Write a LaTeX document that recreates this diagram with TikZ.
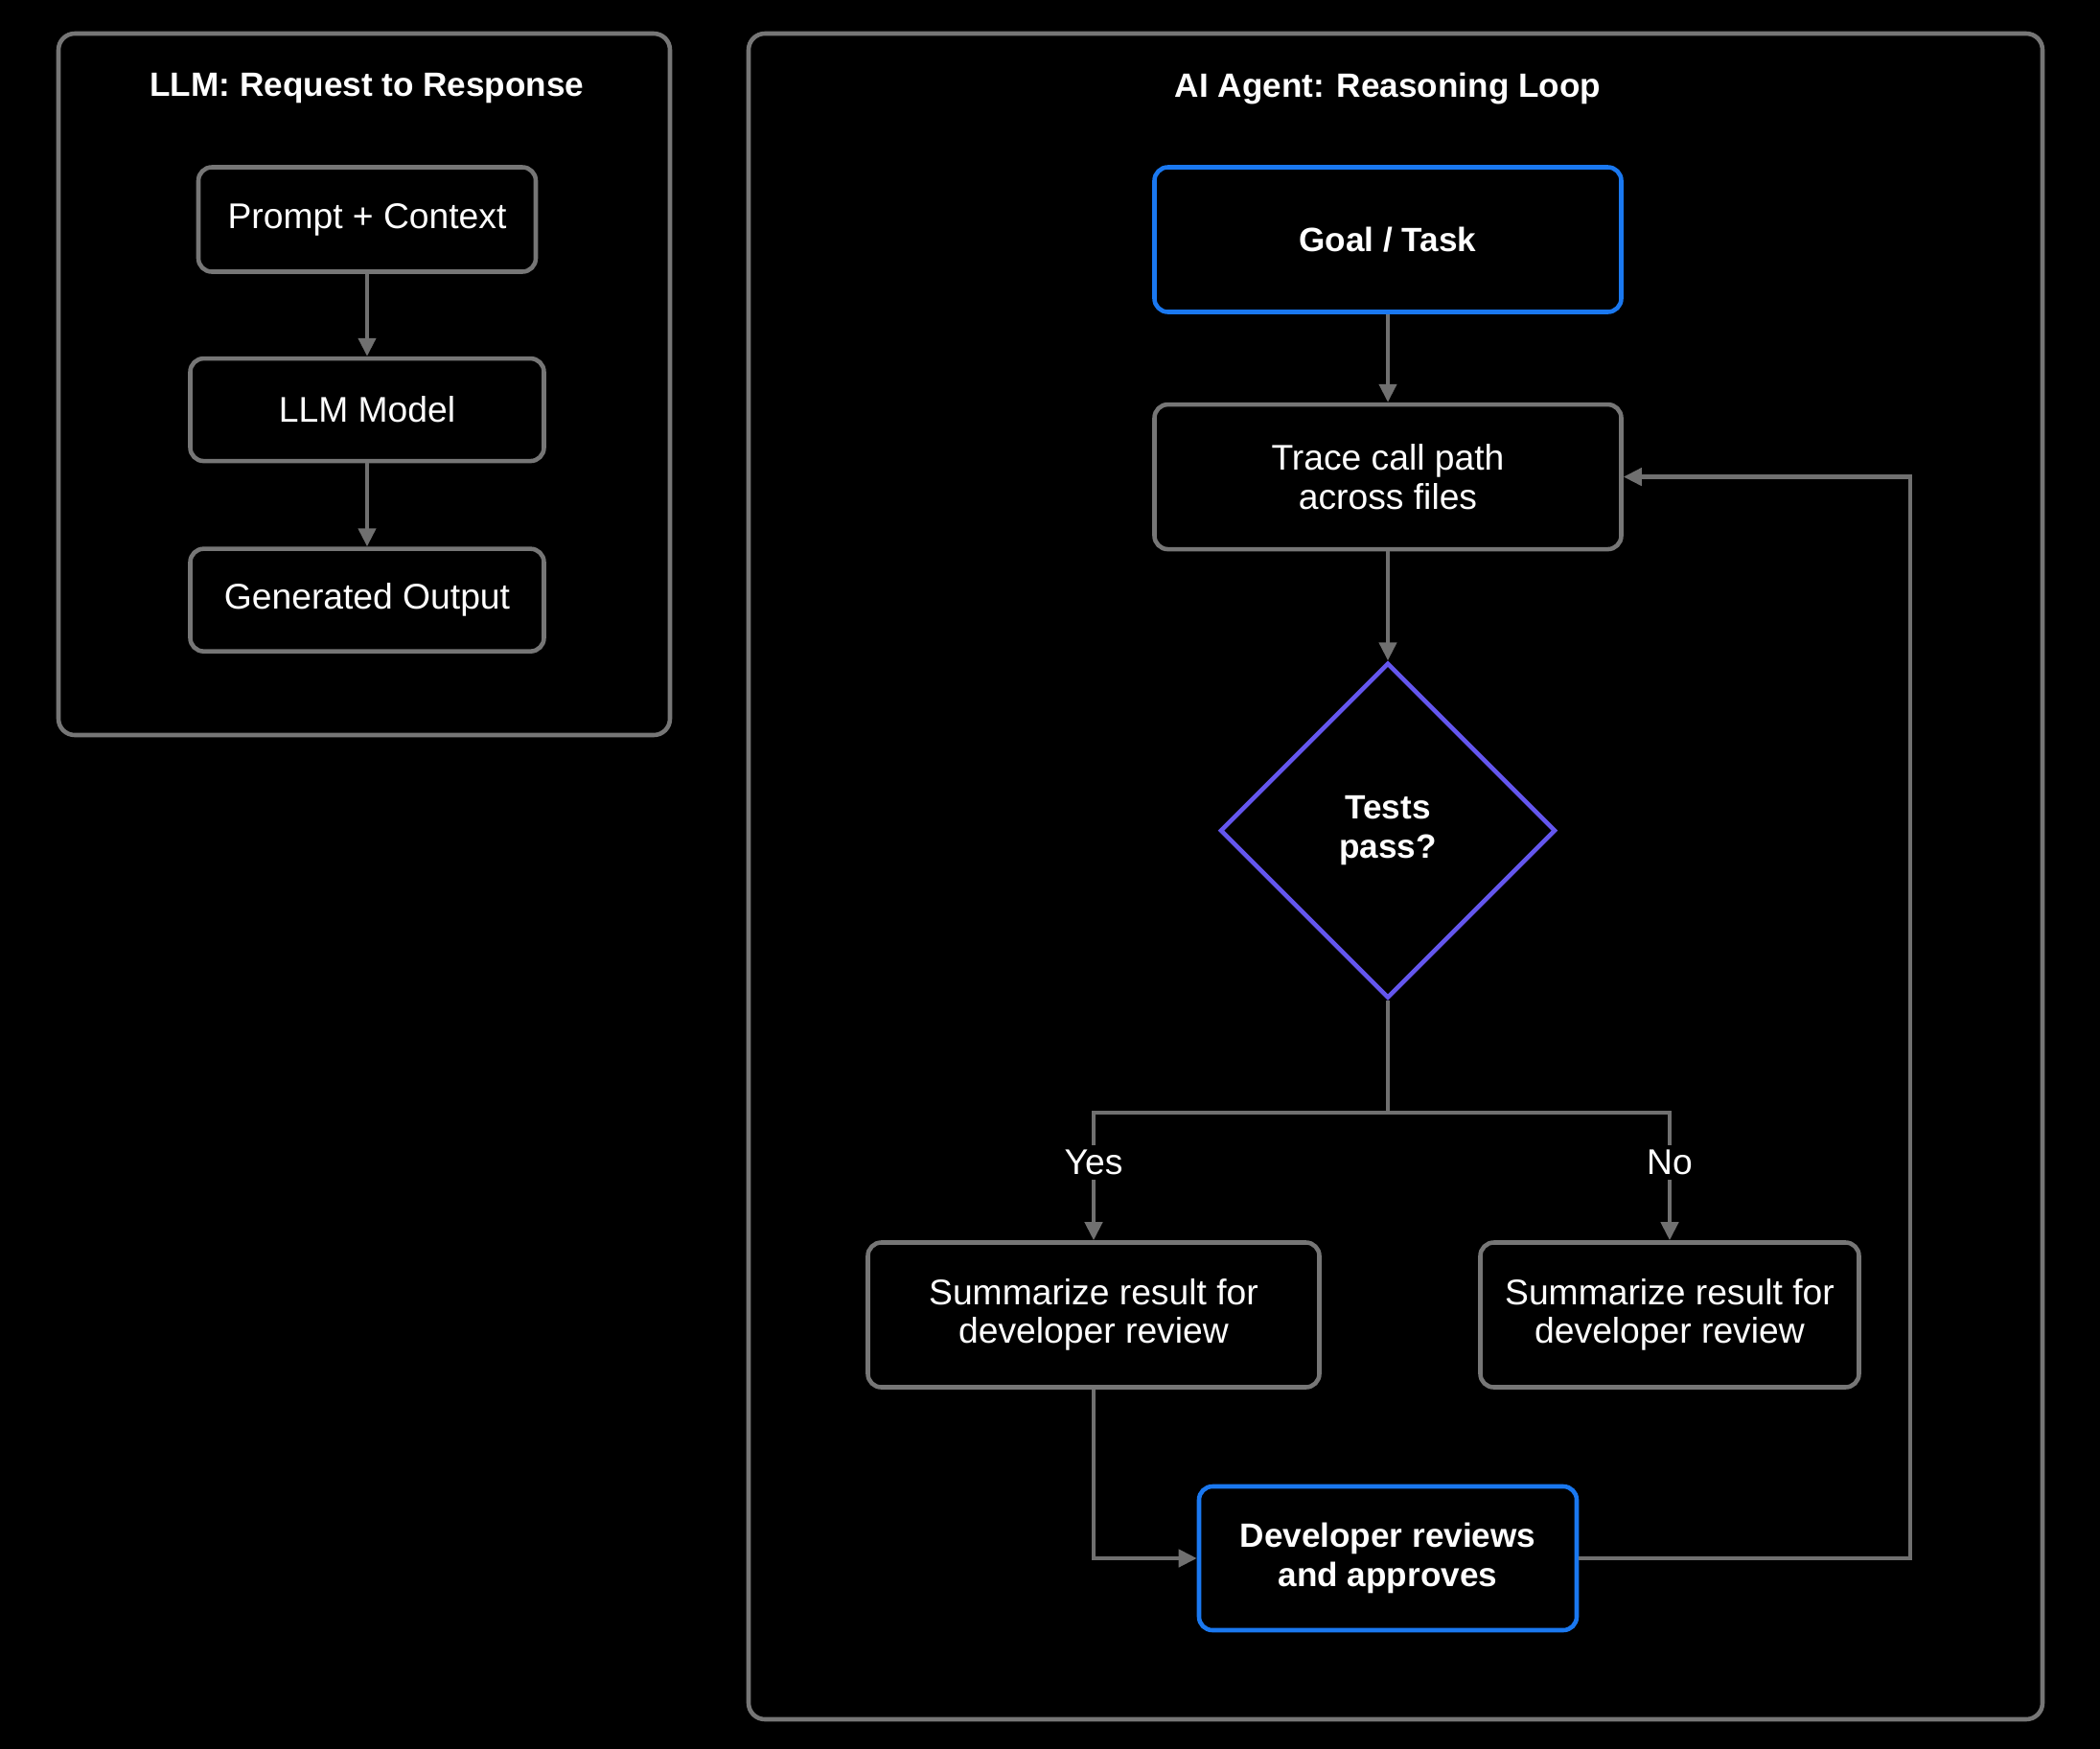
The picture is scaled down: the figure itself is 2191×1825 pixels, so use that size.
\documentclass[tikz,border=0pt]{standalone}
\usepackage{fontspec}
\setmainfont{Liberation Sans}
\usetikzlibrary{positioning, calc, shapes.geometric, arrows.meta}

\definecolor{frameGray}{RGB}{118,118,118}
\definecolor{lineGray}{RGB}{112,112,112}
\definecolor{keyBlue}{RGB}{26,120,240}
\definecolor{decidePurple}{RGB}{100,86,238}

\begin{document}
\begin{tikzpicture}[
  x=0.1mm, y=-0.1mm,
  >={Triangle[length=1.9mm, width=1.8mm]},
  frameNode/.style    ={rectangle, rounded corners=1.7mm, draw=frameGray, line width=1.3pt},
  stepNode/.style     ={rectangle, rounded corners=1.4mm, draw=frameGray, line width=1.3pt, text=white, text centered, align=center, font=\fontsize{10.6}{11.5}\selectfont},
  keyNode/.style      ={stepNode, draw=keyBlue, font=\fontsize{10}{11.5}\selectfont\bfseries},
  decisionNode/.style ={diamond, aspect=1, draw=decidePurple, line width=1.3pt, inner sep=0pt, text=white, align=center, font=\fontsize{10}{11.5}\selectfont\bfseries},
  titleNode/.style    ={text=white, font=\fontsize{10}{11.5}\selectfont\bfseries},
  edgeLabel/.style    ={fill=black, text=white, inner sep=1.5pt, font=\fontsize{10.6}{11.5}\selectfont},
  arrow/.style        ={->, draw=lineGray, line width=1.2pt}
]

% background, sets the page size
\fill[black] (0,0) rectangle (2191,1825);

% ================== LEFT PANEL: LLM ==================
\node[frameNode, minimum width=63.8mm, minimum height=73.2mm] (FRAME_LLM) at (380,401) {};
\node[titleNode] (TITLE_LLM) at (383,92) {LLM: Request to Response};

\node[stepNode, minimum width=35.2mm, minimum height=10.9mm] (PROMPT) at (383,229) {Prompt + Context};
\node[stepNode, minimum width=36.9mm, minimum height=10.7mm, below=8.6mm of PROMPT] (MODEL) {LLM Model};
\node[stepNode, minimum width=36.9mm, minimum height=10.7mm, below=8.7mm of MODEL] (OUTPUT) {Generated Output};

\draw[arrow] (PROMPT) -- (MODEL);
\draw[arrow] (MODEL) -- (OUTPUT);

% ================== RIGHT PANEL: AGENT LOOP ==================
\node[frameNode, minimum width=135mm, minimum height=175.9mm] (FRAME_AGENT) at (1456,914.5) {};
\node[titleNode] (TITLE_AGENT) at (1448,92) {AI Agent: Reasoning Loop};

\node[keyNode, minimum width=48.7mm, minimum height=15.1mm] (GOAL) at (1448,250) {Goal / Task};
\node[stepNode, minimum width=48.7mm, minimum height=15.1mm, below=9.2mm of GOAL] (TRACE) {Trace call path\\across files};
\node[decisionNode, minimum size=35mm, below=11.4mm of TRACE] (DECIDE) {Tests\\pass?};

\node[stepNode, minimum width=47.1mm, minimum height=15.1mm] (SUM_YES) at (1141,1372) {Summarize result for\\developer review};
\node[stepNode, minimum width=39.5mm, minimum height=15.1mm] (SUM_NO) at (1742,1372) {Summarize result for\\developer review};
\node[keyNode, minimum width=39.4mm, minimum height=15mm] (DEVREV) at (1448,1626) {Developer reviews\\and approves};

% helper levels for the branch and the loop back
\coordinate (splitY) at (0,1161);
\coordinate (labelY) at (0,1213);
\coordinate (loopX) at (1993,0);

\draw[arrow] (GOAL) -- (TRACE);
\draw[arrow] (TRACE) -- (DECIDE);

% branch
\draw[arrow] (DECIDE.south) -- (DECIDE.south |- splitY) -| (SUM_YES.north);
\draw[arrow] (DECIDE.south |- splitY) -| (SUM_NO.north);
\node[edgeLabel] (LBL_YES) at (SUM_YES.north |- labelY) {Yes};
\node[edgeLabel] (LBL_NO) at (SUM_NO.north |- labelY) {No};

% review and loop back
\draw[arrow] (SUM_YES.south) |- (DEVREV.west);
\draw[arrow] (DEVREV.east) -| (loopX |- TRACE.east) -- (TRACE.east);

\end{tikzpicture}
\end{document}
